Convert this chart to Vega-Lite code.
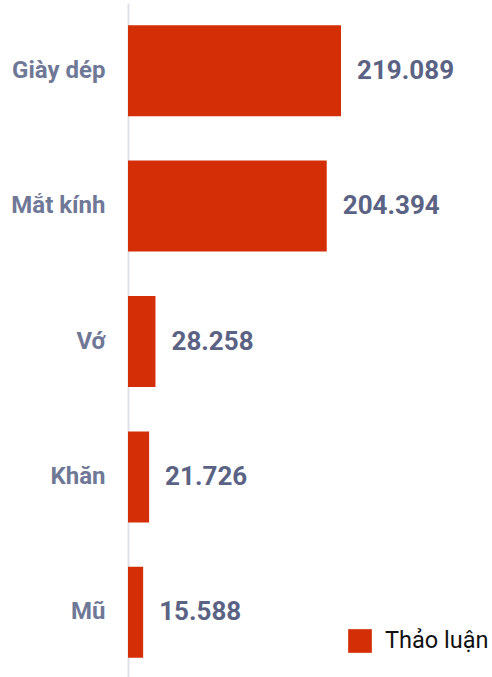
{
  "$schema": "https://vega.github.io/schema/vega-lite/v6.json",
  "autosize": "none",
  "width": 364,
  "height": 677,
  "padding": {"left": 128, "top": 3, "right": 0, "bottom": 0},
  "background": "#ffffff",
  "config": {
    "view": {"stroke": null},
    "font": "Roboto",
    "locale": {"number": {"decimal": ",", "thousands": ".", "grouping": [3], "currency": ["", " ₫"]}}
  },
  "data": {
    "values": [
      {"category": "Giày dép", "value": 219089, "series": "Thảo luận"},
      {"category": "Mắt kính", "value": 204394, "series": "Thảo luận"},
      {"category": "Vớ", "value": 28258, "series": "Thảo luận"},
      {"category": "Khăn", "value": 21726, "series": "Thảo luận"},
      {"category": "Mũ", "value": 15588, "series": "Thảo luận"}
    ]
  },
  "encoding": {
    "y": {
      "field": "category",
      "type": "nominal",
      "sort": null,
      "scale": {"paddingInner": 0.328, "paddingOuter": 0.164},
      "axis": {
        "title": null,
        "ticks": false,
        "domainColor": "#dde1ea",
        "domainWidth": 2,
        "labelFont": "Roboto",
        "labelFontSize": 24,
        "labelFontWeight": "bold",
        "labelColor": "#6f7896",
        "labelPadding": 23
      }
    },
    "x": {
      "field": "value",
      "type": "quantitative",
      "scale": {"domain": [0, 374400], "nice": false},
      "axis": null
    }
  },
  "layer": [
    {
      "mark": {"type": "bar", "color": "#D42E06"},
      "encoding": {
        "color": {
          "field": "series",
          "type": "nominal",
          "scale": {"range": ["#D42E06"]},
          "legend": {
            "title": null,
            "orient": "none",
            "legendX": 220,
            "legendY": 626,
            "padding": 0,
            "symbolType": "square",
            "symbolSize": 560,
            "symbolStrokeWidth": 0,
            "symbolOpacity": 1,
            "labelFont": "Roboto",
            "labelFontSize": 23.5,
            "labelColor": "#111111",
            "labelOffset": 13
          }
        }
      }
    },
    {
      "mark": {
        "type": "text",
        "align": "left",
        "baseline": "middle",
        "dx": 16,
        "font": "Roboto",
        "fontSize": 26,
        "fontWeight": "bold",
        "color": "#5b6384"
      },
      "encoding": {
        "text": {"field": "value", "type": "quantitative", "format": ",d"}
      }
    }
  ]
}
